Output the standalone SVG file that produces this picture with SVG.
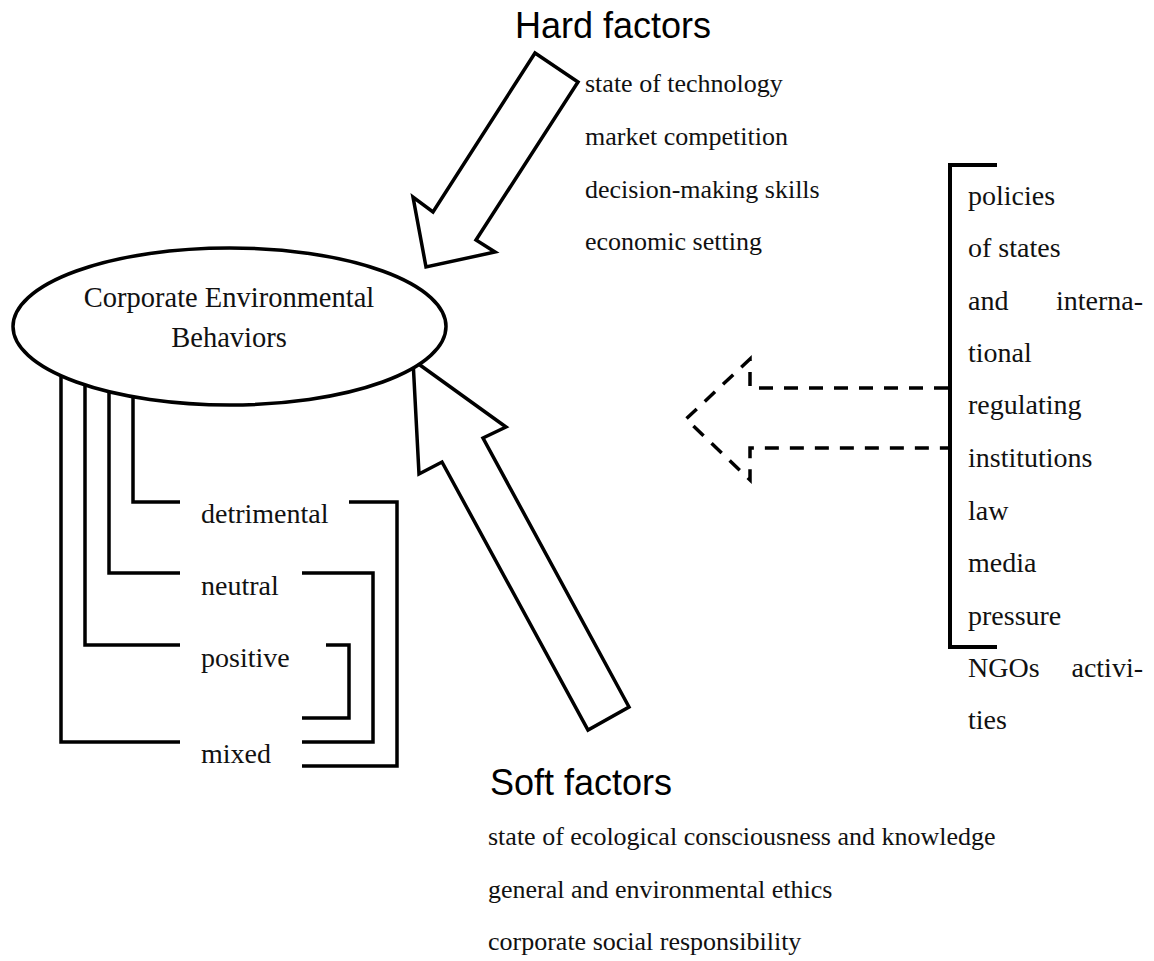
<svg xmlns="http://www.w3.org/2000/svg" width="1154" height="961" viewBox="0 0 1154 961">
<style>
.s{font-family:"Liberation Serif","Times New Roman",serif;font-size:26px;fill:#111}
.b{font-size:28px}
.h{font-family:"Liberation Sans",Arial,sans-serif;font-size:36px;fill:#000}
.ln{fill:none;stroke:#000;stroke-width:3.5;stroke-linejoin:miter}
.ar{fill:#fff;stroke:#000;stroke-width:3.5;stroke-linejoin:miter}
.da{fill:none;stroke:#000;stroke-width:3.5;stroke-dasharray:14 11}
</style>
<rect width="1154" height="961" fill="#fff"/>
<g id="connectors">
<path class="ar" d="M535,53 L578,82 L476,240 L495,252 L426,267 L413,197 L433,212 Z"/>
<path class="ar" d="M413,360 L506,427 L483,438 L629,707 L588,730 L442,462 L419,474 Z"/>
<path class="da" d="M948,388 H750 V359 L686,419 L750,480 V448 H948"/>
<path class="ln" d="M133,382 V502 H180"/>
<path class="ln" d="M109,382 V573 H180"/>
<path class="ln" d="M85,382 V645 H180"/>
<path class="ln" d="M61,358 V742 H180"/>
<path class="ln" d="M349,502 H397 V766 H302"/>
<path class="ln" d="M302,573 H373 V742 H302"/>
<path class="ln" d="M326,645 H349 V718 H302"/>
<path class="ln" style="stroke-width:4" d="M997,165 H950 V647 H997"/>
</g>
<g id="behaviors">
<ellipse cx="229.5" cy="326.5" rx="216.5" ry="78.5" fill="#fff" stroke="#000" stroke-width="3.5"/>
<text class="s" style="font-size:28.5px" x="229" y="307" text-anchor="middle">Corporate Environmental</text>
<text class="s" style="font-size:28.5px" x="229" y="347" text-anchor="middle">Behaviors</text>
</g>
<g id="hard-factors">
<text class="h" x="515" y="38">Hard factors</text>
<text class="s" x="585" y="92">state of technology</text>
<text class="s" x="585" y="145">market competition</text>
<text class="s" x="585" y="198">decision-making skills</text>
<text class="s" x="585" y="250">economic setting</text>
</g>
<g id="soft-factors">
<text class="h" x="490" y="795">Soft factors</text>
<text class="s" x="488" y="845">state of ecological consciousness and knowledge</text>
<text class="s" x="488" y="898">general and environmental ethics</text>
<text class="s" x="488" y="950">corporate social responsibility</text>
</g>
<g id="external">
<text class="s b" x="968" y="205">policies</text>
<text class="s b" x="968" y="257">of states</text>
<text class="s b" x="968" y="310">and</text>
<text class="s b" x="1143" y="310" text-anchor="end">interna-</text>
<text class="s b" x="968" y="362">tional</text>
<text class="s b" x="968" y="414">regulating</text>
<text class="s b" x="968" y="467">institutions</text>
<text class="s b" x="968" y="520">law</text>
<text class="s b" x="968" y="572">media</text>
<text class="s b" x="968" y="625">pressure</text>
<text class="s b" x="968" y="677">NGOs</text>
<text class="s b" x="1143" y="677" text-anchor="end">activi-</text>
<text class="s b" x="968" y="729">ties</text>
</g>
<g id="outcomes">
<text class="s b" x="201" y="523">detrimental</text>
<text class="s b" x="201" y="595">neutral</text>
<text class="s b" x="201" y="667">positive</text>
<text class="s b" x="201" y="763">mixed</text>
</g>
</svg>
